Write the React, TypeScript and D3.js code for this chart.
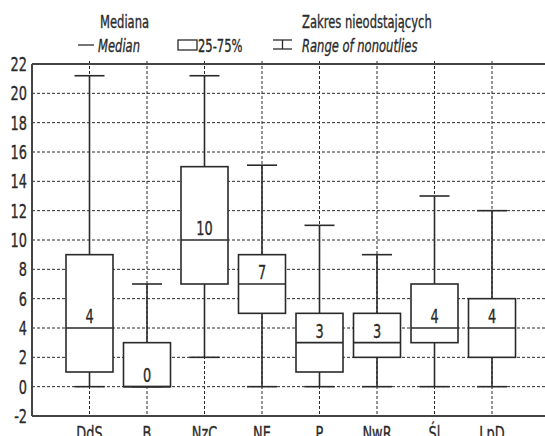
import React from 'react';
import * as d3 from "d3";

const categories = ["DdS", "B", "NzC", "NE", "P", "NwR", "Śl", "LpD"];
const mins = [0, 0, 2, 0, 0, 0, 0, 0];
const q1s = [1, 0, 7, 5, 1, 2, 3, 2];
const medians = [4, 0, 10, 7, 3, 3, 4, 4];
const q3s = [9, 3, 15, 9, 5, 5, 7, 6];
const maxs = [21.2, 7, 21.2, 15.1, 11, 9, 13, 12];
const yTicks = [-2, 0, 2, 4, 6, 8, 10, 12, 14, 16, 18, 20, 22];

const W = 545;
const H = 436;
const margin = { top: 64, left: 32, bottom: 20 };
const font = "'DejaVu Sans', sans-serif";
const ink = "#2a2a2a";
const squeeze = 0.68;

// condensed text: the reference uses a narrow face we don't have
const T = ({ x, y, size = 18, anchor = "start", italic = false, children }:
    { x: number; y: number; size?: number; anchor?: string; italic?: boolean; children: React.ReactNode }) => (
    <text transform={`translate(${x},${y}) scale(${squeeze},1)`} fontSize={size} textAnchor={anchor}
        fontStyle={italic ? "italic" : "normal"} fill={ink} stroke={ink} strokeWidth={0.35}>
        {children}
    </text>
);

const App = () => {
    const x = d3.scalePoint<string>()
        .domain(["", ...categories, " "])
        .range([margin.left, margin.left + 9 * 57.5]);
    const y = d3.scaleLinear().domain([-2, 22]).range([H - margin.bottom, margin.top]);

    const boxW = 47;
    const capW = 30;

    return (
        <svg width={W} height={H} style={{ display: "block", position: "absolute", left: 0, top: 0, background: "#fff" }}
            fontFamily={font}>
            {/* legend */}
            <g>
                <T x={100} y={28} size={17}>Mediana</T>
                <line x1={78} x2={94} y1={45} y2={45} stroke={ink} strokeWidth={1.3} />
                <T x={98} y={52} size={17} italic>Median</T>
                <rect x={178} y={40} width={19} height={10} fill="none" stroke={ink} strokeWidth={1.3} />
                <T x={198} y={52} size={17}>25-75%</T>
                <T x={302} y={28} size={17}>Zakres nieodstających</T>
                <line x1={273} x2={292} y1={40} y2={40} stroke={ink} strokeWidth={1.3} />
                <line x1={273} x2={292} y1={49} y2={49} stroke={ink} strokeWidth={1.3} />
                <line x1={282.5} x2={282.5} y1={40} y2={49} stroke={ink} strokeWidth={1.3} />
                <T x={302} y={52} size={17} italic>Range of nonoutlies</T>
            </g>

            {/* grid */}
            <g stroke={ink} strokeWidth={1} strokeDasharray="3,2">
                {yTicks.slice(1, -1).map(t => (
                    <line key={t} x1={margin.left} x2={W} y1={y(t)} y2={y(t)} />
                ))}
                {categories.map(c => (
                    <line key={c} x1={x(c)} x2={x(c)} y1={y(22) - 3} y2={y(-2)} />
                ))}
            </g>

            {/* frame */}
            <g stroke="#444" strokeWidth={2} fill="none">
                <line x1={margin.left} x2={W} y1={y(22)} y2={y(22)} />
                <line x1={margin.left} x2={W} y1={y(-2)} y2={y(-2)} />
                <line x1={margin.left} x2={margin.left} y1={y(22)} y2={y(-2)} />
            </g>

            {/* y tick labels */}
            {yTicks.map(t => (
                <T key={t} x={27} y={y(t) + 7} size={19} anchor="end">{t}</T>
            ))}

            {/* boxes */}
            {categories.map((c, i) => {
                const cx = x(c) as number;
                return (
                    <g key={c}>
                        <g stroke={ink} strokeWidth={1.6} fill="none">
                            <line x1={cx} x2={cx} y1={y(maxs[i])} y2={y(q3s[i])} />
                            <line x1={cx} x2={cx} y1={y(q1s[i])} y2={y(mins[i])} />
                            <line x1={cx - capW / 2} x2={cx + capW / 2} y1={y(maxs[i])} y2={y(maxs[i])} />
                            <line x1={cx - capW / 2} x2={cx + capW / 2} y1={y(mins[i])} y2={y(mins[i])} />
                            <rect x={cx - boxW / 2} y={y(q3s[i])} width={boxW} height={y(q1s[i]) - y(q3s[i])} fill="#fff" />
                            <line x1={cx - boxW / 2} x2={cx + boxW / 2} y1={y(medians[i])} y2={y(medians[i])} />
                        </g>
                        <T x={cx} y={y(medians[i]) - 5} size={19} anchor="middle">{medians[i]}</T>
                    </g>
                );
            })}

            {/* x labels (cut by the bottom edge, as in the source) */}
            {categories.map(c => (
                <T key={c} x={x(c) as number} y={440} size={19} anchor="middle">{c}</T>
            ))}
        </svg>
    );
};

export default App;
